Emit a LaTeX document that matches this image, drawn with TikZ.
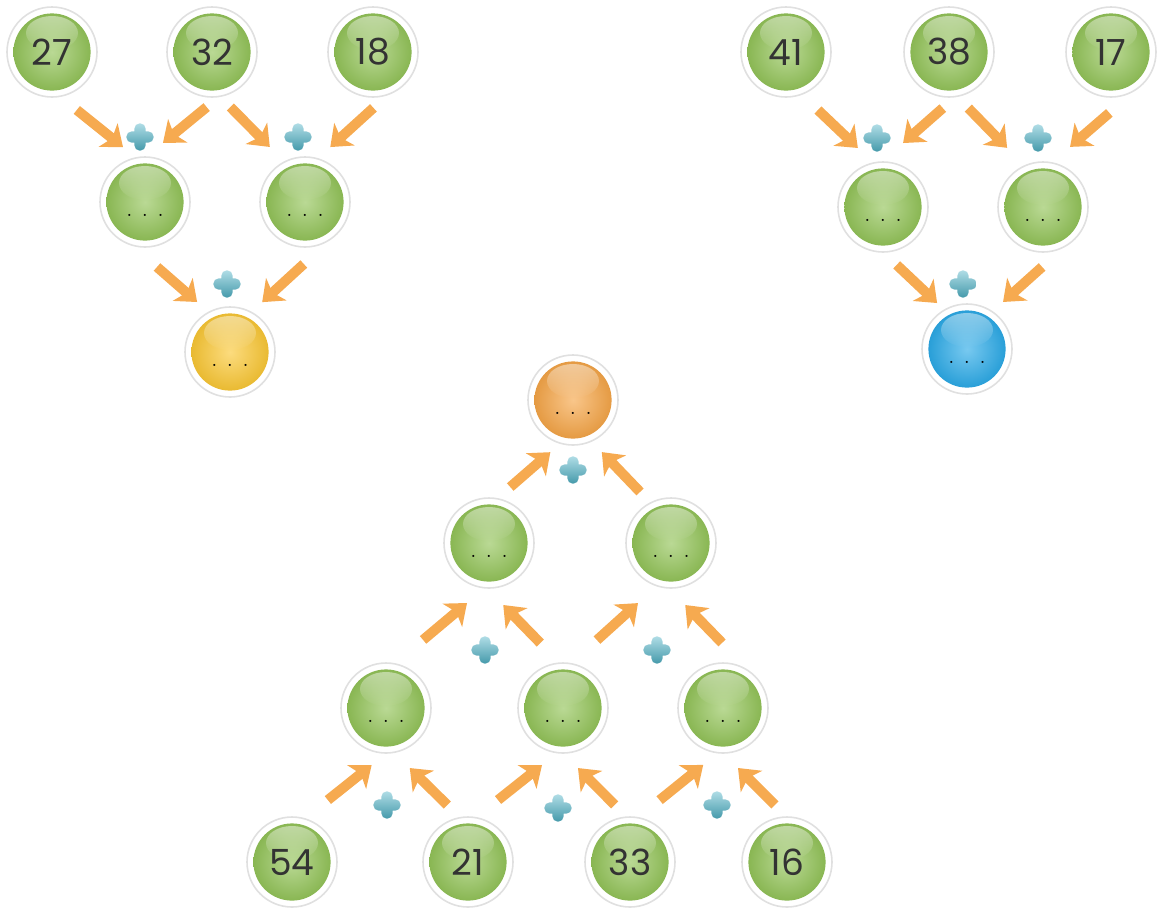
\documentclass[tikz,border=0pt]{standalone}
\usepackage{fontspec}
\newfontfamily\numfont{Poppins}
\usepackage{tikz}
\usetikzlibrary{shapes.geometric, arrows.meta, fadings}

\definecolor{ballgreen}{RGB}{140,192,78}
\definecolor{ballyellow}{RGB}{250,196,40}
\definecolor{ballorange}{RGB}{245,160,60}
\definecolor{ballblue}{RGB}{30,165,230}
\definecolor{arroworange}{RGB}{246,170,80}
\definecolor{plusteal}{RGB}{80,180,200}

\newcommand{\blankdots}{\smash{\raisebox{-7pt}{\fontsize{10}{10}\selectfont .\hspace{5pt}.\hspace{5pt}.}}}

\tikzset{
  ball/.style={
    circle,
    minimum size=45pt,
    inner sep=0pt, outer sep=0pt,
    fill=white,
    draw=black!12,
    line width=0.8pt,
    path picture={
      \shade[inner color=#1!60!white, outer color=#1!92!black]
        (path picture bounding box.center) circle (19.3pt);
      \fill[white, path fading=south, fill opacity=.45]
        ([yshift=9.5pt]path picture bounding box.center) ellipse (13pt and 8.5pt);
    }
  },
  ball/.default=ballgreen,
  numball/.style={
    ball,
    font=\numfont\fontsize{18}{18}\selectfont,
    text=black!80
  },
  plusmark/.style={
    rectangle,
    minimum size=14pt,
    inner sep=0pt,
    fill=white,
    path picture={
      \shade[top color=plusteal!45!white, bottom color=plusteal!85!black, rounded corners=2.6pt]
        ([shift={(-6.8pt,-2.8pt)}]path picture bounding box.center) rectangle ++(13.6pt,5.6pt)
        ([shift={(-2.8pt,-6.8pt)}]path picture bounding box.center) rectangle ++(5.6pt,13.6pt);
    }
  },
  arrow/.style={line width=5pt, ->, >={Stealth[length=9.5pt,width=15pt,inset=2.5pt]}, draw=arroworange},
}

\begin{document}
\begin{tikzpicture}[x=0.5pt, y=-0.5pt]
\useasboundingbox (0,0) rectangle (1161,917);

% first sum, top left
\node (n27) [numball] at (52,52) {27};
\node (n32) [numball] at (212,52) {32};
\node (n18) [numball] at (373,52) {18};
\node (m1) [ball] at (145,202) {\blankdots};
\node (m2) [ball] at (305,202) {\blankdots};
\node (yel) [ball=ballyellow] at (230,352) {\blankdots};
\node (p1) [plusmark] at (140,137) {};
\node (p2) [plusmark] at (298,137) {};
\node (p3) [plusmark] at (227,284) {};

% second sum, top right
\node (n41) [numball] at (786,52) {41};
\node (n38) [numball] at (949,52) {38};
\node (n17) [numball] at (1111,52) {17};
\node (m3) [ball] at (883,207) {\blankdots};
\node (m4) [ball] at (1043,207) {\blankdots};
\node (blu) [ball=ballblue] at (967,349) {\blankdots};
\node (p4) [plusmark] at (877,138) {};
\node (p5) [plusmark] at (1038,138) {};
\node (p6) [plusmark] at (963,284) {};

% third sum, bottom (upwards)
\node (org) [ball=ballorange] at (573,400) {\blankdots};
\node (s1) [ball] at (489,543) {\blankdots};
\node (s2) [ball] at (671,543) {\blankdots};
\node (t1) [ball] at (386,708) {\blankdots};
\node (t2) [ball] at (563,708) {\blankdots};
\node (t3) [ball] at (723,708) {\blankdots};
\node (n54) [numball] at (292,862) {54};
\node (n21) [numball] at (468,862) {21};
\node (n33) [numball] at (630,862) {33};
\node (n16) [numball] at (787,862) {16};
\node (p7) [plusmark] at (573,470) {};
\node (p8) [plusmark] at (485,650) {};
\node (p9) [plusmark] at (657,650) {};
\node (p10) [plusmark] at (387,805) {};
\node (p11) [plusmark] at (558,808) {};
\node (p12) [plusmark] at (717,805) {};

\draw [arrow, shorten <=10.9pt, shorten >=8.6pt] (n27.-80) -- (m1.101);
\draw [arrow, shorten <=8.5pt, shorten >=11.1pt] (n32.-80) -- (m1.89);
\draw [arrow, shorten <=7.5pt, shorten >=10.5pt] (n32.-80) -- (m2.117);
\draw [arrow, shorten <=10.1pt, shorten >=8.7pt] (n18.-70) -- (m2.74);
\draw [arrow, shorten <=16.7pt, shorten >=7.8pt] (m1.-107) -- (yel.118);
\draw [arrow, shorten <=20pt, shorten >=7.5pt] (m2.-51) -- (yel.62);

\draw [arrow, shorten <=11.4pt, shorten >=10.9pt] (n41.-70) -- (m3.102);
\draw [arrow, shorten <=8.8pt, shorten >=14.4pt] (n38.-81) -- (m3.92);
\draw [arrow, shorten <=8.2pt, shorten >=12.6pt] (n38.-80) -- (m4.114);
\draw [arrow, shorten <=20.2pt, shorten >=12.2pt] (n17.-50) -- (m4.79);
\draw [arrow, shorten <=9.4pt, shorten >=5.1pt] (m3.-90) -- (blu.120);
\draw [arrow, shorten <=15.7pt, shorten >=7.3pt] (m4.-60) -- (blu.56);

\draw [arrow, shorten <=8.9pt, shorten >=6.8pt] (s1.80) -- (org.-106);
\draw [arrow, shorten <=7.6pt, shorten >=7.6pt] (s2.117) -- (org.-66);
\draw [arrow, shorten <=18.6pt, shorten >=11.8pt] (t1.79) -- (s1.-95);
\draw [arrow, shorten <=14pt, shorten >=11.9pt] (t2.94) -- (s1.-93);
\draw [arrow, shorten <=17.6pt, shorten >=12.9pt] (t2.80) -- (s2.-108);
\draw [arrow, shorten <=21pt, shorten >=11.9pt] (t3.51) -- (s2.-93);
\draw [arrow, shorten <=15pt, shorten >=9.7pt] (n54.74) -- (t1.-89);
\draw [arrow, shorten <=9pt, shorten >=11.2pt] (n21.100) -- (t1.-80);
\draw [arrow, shorten <=14.2pt, shorten >=9.9pt] (n21.80) -- (t2.-97);
\draw [arrow, shorten <=8.6pt, shorten >=10.6pt] (n33.94) -- (t2.-90);
\draw [arrow, shorten <=14pt, shorten >=9.7pt] (n33.80) -- (t3.-96);
\draw [arrow, shorten <=8.5pt, shorten >=10.6pt] (n16.90) -- (t3.-90);

\end{tikzpicture}
\end{document}
